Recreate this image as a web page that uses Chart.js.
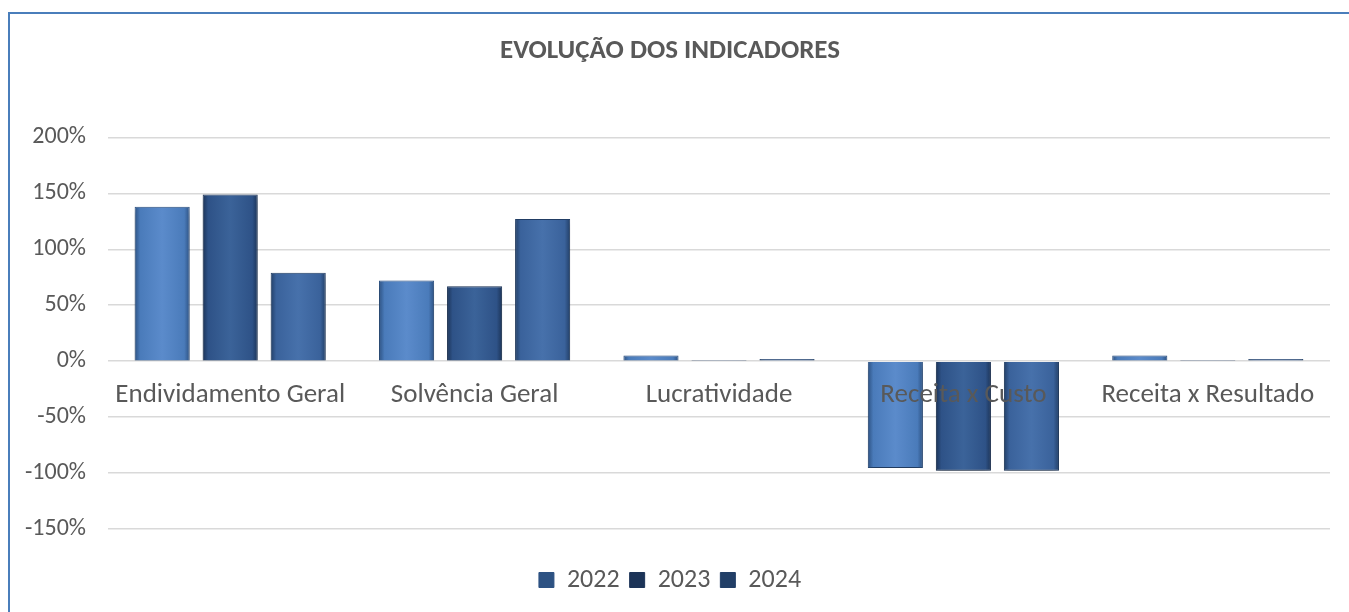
<!DOCTYPE html>
<html>
<head>
<meta charset="utf-8">
<script src="https://cdn.jsdelivr.net/npm/chart.js@4/dist/chart.umd.min.js"></script>
<style>
    html, body { margin: 0; padding: 0; background: #fff; overflow: hidden; }
    #moldura {
        position: absolute;
        left: 8px;
        top: 12px;
        width: 1400px;
        height: 700px;
        border: 2px solid #4a7ebb;
        background: #fff;
    }
    #graficoIndicadores { position: absolute; left: 0; top: 0; }
</style>
</head>
<body>
<div id="moldura">
    <canvas id="graficoIndicadores" width="1339" height="640"></canvas>
</div>
<script>
const categorias = ['Endividamento Geral', 'Solvência Geral', 'Lucratividade', 'Receita x Custo', 'Receita x Resultado'];
const anos = ['2022', '2023', '2024'];
const valores2022 = [1.38, 0.72, 0.05, -0.955, 0.05];
const valores2023 = [1.49, 0.67, 0.01, -0.98, 0.01];
const valores2024 = [0.79, 1.27, 0.02, -0.98, 0.02];
const ticksY = [-1.5, -1.0, -0.5, 0, 0.5, 1.0, 1.5, 2.0];

const corBase = ['#4a7bba', '#2e5287', '#3a629b'];
const corClara = ['#5b8bcb', '#3b6399', '#4771ab'];
const corEscura = ['#2d5283', '#1c3458', '#223f67'];

const fonte = "Carlito, Calibri, 'Open Sans', sans-serif";
const percCategoria = 0.835;
const percBarra = 0.81;

// gradiente horizontal em cada barra (efeito chanfrado do Excel)
function corDaBarra(context) {
    const i = context.datasetIndex;
    if (context.type !== 'data') return corBase[i];
    const chart = context.chart;
    const x = chart.scales.x;
    if (!x || !x.width) return corBase[i];
    const larguraCat = x.width / categorias.length;
    const slot = larguraCat * percCategoria / anos.length;
    const centro = x.getPixelForValue(context.dataIndex) + (i - 1) * slot;
    const meia = slot * percBarra / 2;
    if (!isFinite(centro) || !isFinite(meia)) return corBase[i];
    const g = chart.ctx.createLinearGradient(centro - meia, 0, centro + meia, 0);
    g.addColorStop(0, corEscura[i]);
    g.addColorStop(0.1, corBase[i]);
    g.addColorStop(0.5, corClara[i]);
    g.addColorStop(0.9, corBase[i]);
    g.addColorStop(1, corEscura[i]);
    return g;
}

const sombraBarras = {
    id: 'sombraBarras',
    beforeDatasetsDraw(chart) {
        const ctx = chart.ctx;
        ctx.save();
        ctx.shadowColor = 'rgba(0, 0, 0, 0.35)';
        ctx.shadowBlur = 7;
        ctx.shadowOffsetY = 4;
    },
    afterDatasetsDraw(chart) {
        chart.ctx.restore();
    }
};

function desenharGrafico() {
    const ctx = document.getElementById('graficoIndicadores').getContext('2d');
    const series = [valores2022, valores2023, valores2024];

    new Chart(ctx, {
        type: 'bar',
        data: {
            labels: categorias,
            datasets: anos.map(function(ano, i) {
                return {
                    label: ano,
                    data: series[i],
                    backgroundColor: corDaBarra,
                    borderColor: corEscura[i],
                    borderWidth: 1,
                    categoryPercentage: percCategoria,
                    barPercentage: percBarra
                };
            })
        },
        options: {
            responsive: false,
            animation: false,
            layout: { padding: { left: 0, right: 19, top: 14, bottom: 51 } },
            plugins: {
                title: {
                    display: true,
                    text: 'EVOLUÇÃO DOS INDICADORES',
                    color: '#595959',
                    font: { family: fonte, size: 27, weight: 'bold' },
                    padding: { top: 7, bottom: 70 }
                },
                legend: {
                    position: 'bottom',
                    // titulo vazio so para dar o espaco acima da legenda
                    title: {
                        display: true,
                        text: ' ',
                        font: { size: 10, lineHeight: 1 },
                        padding: { top: 9, bottom: 9 }
                    },
                    labels: {
                        color: '#595959',
                        font: { family: fonte, size: 26 },
                        boxWidth: 15,
                        boxHeight: 15,
                        padding: 10
                    }
                },
                tooltip: { enabled: false }
            },
            scales: {
                x: {
                    position: { y: 0 },
                    grid: { display: false },
                    border: { display: false },
                    ticks: {
                        z: 1,
                        color: '#595959',
                        font: { family: fonte, size: 27 },
                        padding: 10
                    }
                },
                y: {
                    min: -1.5,
                    max: 2.0,
                    afterBuildTicks: function(axis) {
                        axis.ticks = ticksY.map(function(v) { return { value: v }; });
                    },
                    afterFit: function(axis) {
                        axis.width = 98;
                    },
                    grid: { color: '#d9d9d9', lineWidth: 1.5, drawTicks: false },
                    border: { display: false },
                    ticks: {
                        color: '#595959',
                        font: { family: fonte, size: 24 },
                        padding: 22,
                        callback: function(v) { return Math.round(v * 100) + '%'; }
                    }
                }
            }
        },
        plugins: [sombraBarras]
    });
}

document.addEventListener('DOMContentLoaded', function() {
    Promise.all([
        document.fonts.load('24px Carlito'),
        document.fonts.load('bold 27px Carlito')
    ]).then(desenharGrafico, desenharGrafico);
});
</script>
</body>
</html>
